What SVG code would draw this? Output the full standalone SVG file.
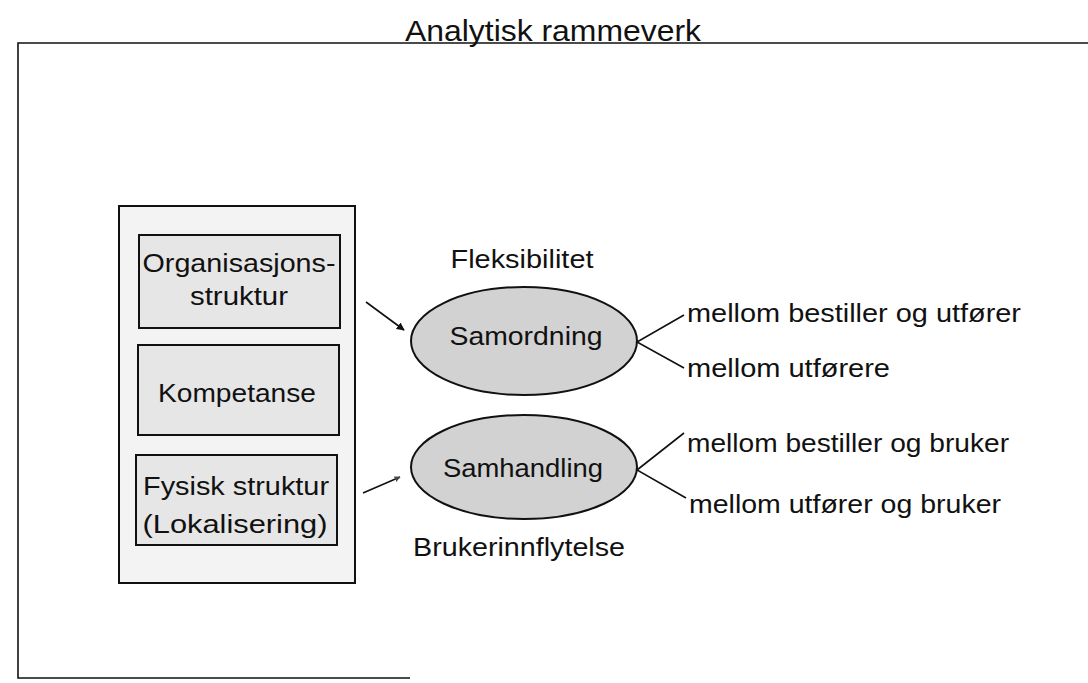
<svg xmlns="http://www.w3.org/2000/svg" width="1088" height="683" viewBox="0 0 1088 683">
<style>
text{font-family:"Liberation Sans",Arial,sans-serif;fill:#111;}
.t{font-size:25px;}
.outer{fill:#f3f3f3;stroke:#111;stroke-width:2;}
.box{fill:#e6e6e6;stroke:#111;stroke-width:2;}
.ell{fill:#d2d2d2;stroke:#111;stroke-width:2;}
.ln{fill:none;stroke:#111;stroke-width:1.6;}
</style>
<defs>
<marker id="ah" viewBox="0 0 10 10" refX="9" refY="5" markerWidth="8" markerHeight="8" orient="auto" markerUnits="userSpaceOnUse">
<path d="M0,0 L10,5 L0,10 z" fill="#111"/>
</marker>
<marker id="ah2" viewBox="0 0 10 10" refX="9" refY="5" markerWidth="6" markerHeight="6" orient="auto" markerUnits="userSpaceOnUse">
<path d="M0,0 L10,5 L0,10 z" fill="#444"/>
</marker>
</defs>
<rect width="1088" height="683" fill="#fff"/>
<g id="frame">
<text x="553" y="41" text-anchor="middle" font-size="30" textLength="296" lengthAdjust="spacingAndGlyphs">Analytisk rammeverk</text>
<path class="ln" d="M1088,43 L18,43 L18,678 L410,678" stroke-width="1.8"/>
</g>
<g id="factors">
<rect class="outer" x="119" y="206" width="236" height="377"/>
</g>
<g id="org">
<rect class="box" x="139" y="235" width="201" height="93"/>
<text class="t" x="239" y="272" text-anchor="middle" textLength="193" lengthAdjust="spacingAndGlyphs">Organisasjons-</text>
<text class="t" x="239" y="305" text-anchor="middle" textLength="98" lengthAdjust="spacingAndGlyphs">struktur</text>
</g>
<g id="komp">
<rect class="box" x="138" y="345" width="201" height="90"/>
<text class="t" x="237" y="402" text-anchor="middle" textLength="158" lengthAdjust="spacingAndGlyphs">Kompetanse</text>
</g>
<g id="fysisk">
<rect class="box" x="136" y="455" width="201" height="90"/>
<text class="t" x="236" y="495" text-anchor="middle" textLength="186" lengthAdjust="spacingAndGlyphs">Fysisk struktur</text>
<text class="t" x="235" y="533" text-anchor="middle" textLength="185" lengthAdjust="spacingAndGlyphs">(Lokalisering)</text>
</g>
<g id="samordning">
<text class="t" x="522" y="268" text-anchor="middle" textLength="143" lengthAdjust="spacingAndGlyphs">Fleksibilitet</text>
<ellipse class="ell" cx="524" cy="341" rx="113" ry="54"/>
<text class="t" x="526" y="345" text-anchor="middle" textLength="153" lengthAdjust="spacingAndGlyphs">Samordning</text>
</g>
<g id="samhandling">
<ellipse class="ell" cx="524" cy="467" rx="113" ry="52"/>
<text class="t" x="523" y="477" text-anchor="middle" textLength="160" lengthAdjust="spacingAndGlyphs">Samhandling</text>
<text class="t" x="519" y="556" text-anchor="middle" textLength="212" lengthAdjust="spacingAndGlyphs">Brukerinnflytelse</text>
</g>
<g id="labels">
<text class="t" x="687" y="322" textLength="334" lengthAdjust="spacingAndGlyphs">mellom bestiller og utfører</text>
<text class="t" x="687" y="377" textLength="203" lengthAdjust="spacingAndGlyphs">mellom utførere</text>
<text class="t" x="687" y="452" textLength="322" lengthAdjust="spacingAndGlyphs">mellom bestiller og bruker</text>
<text class="t" x="689" y="513" textLength="312" lengthAdjust="spacingAndGlyphs">mellom utfører og bruker</text>
</g>
<g id="connectors">
<line class="ln" x1="366" y1="302" x2="404" y2="330" marker-end="url(#ah)"/>
<line class="ln" x1="363" y1="493" x2="400" y2="477" marker-end="url(#ah2)"/>
<path class="ln" d="M684,315 L637,342 L684,368"/>
<path class="ln" d="M684,433 L637,470 L686,498"/>
</g>
</svg>
